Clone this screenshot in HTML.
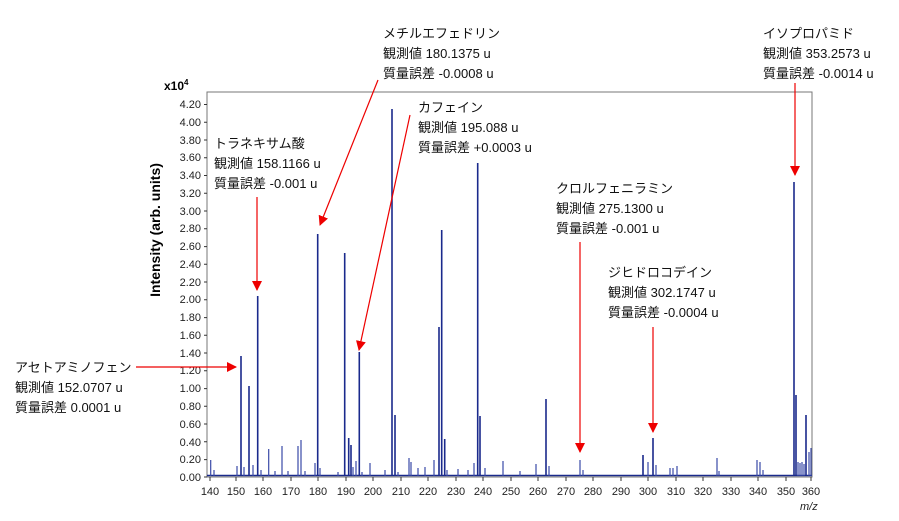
<!DOCTYPE html>
<html><head><meta charset="utf-8"><style>
html,body{margin:0;padding:0;background:#fff;}
svg{display:block;}
text{font-family:"Liberation Sans","Noto Sans CJK JP",sans-serif;}
.t{font-size:13px;fill:#111;}
.k{font-size:11px;fill:#222;}
</style></head><body>
<svg width="899" height="521" viewBox="0 0 899 521" xmlns="http://www.w3.org/2000/svg">
<defs><marker id="a" markerWidth="10" markerHeight="10" refX="9" refY="5" orient="auto" markerUnits="userSpaceOnUse"><path d="M0,0 L10,5 L0,10 z" fill="#e00"/></marker></defs>
<rect x="207" y="92" width="605" height="385" fill="none" stroke="#777" stroke-width="1"/>
<g stroke="#333" stroke-width="1">
<path d="M204,104.5h3M204,122.3h3M204,140h3M204,157.8h3M204,175.5h3M204,193.3h3M204,211h3M204,228.8h3M204,246.6h3M204,264.3h3M204,282h3M204,299.8h3M204,317.6h3M204,335.3h3M204,353h3M204,370.8h3M204,388.6h3M204,406.3h3M204,424h3M204,441.8h3M204,459.6h3M204,477h3"/>
<path d="M210,477v4M236,477v4M263,477v4M291,477v4M318,477v4M346,477v4M373,477v4M401,477v4M428,477v4M456,477v4M483,477v4M511,477v4M538,477v4M566,477v4M593,477v4M621,477v4M648,477v4M676,477v4M703,477v4M731,477v4M758,477v4M786,477v4M811,477v4"/>
</g>
<g class="k" text-anchor="end">
<text x="201" y="108">4.20</text><text x="201" y="126">4.00</text><text x="201" y="144">3.80</text><text x="201" y="161">3.60</text><text x="201" y="179">3.40</text><text x="201" y="197">3.20</text><text x="201" y="215">3.00</text><text x="201" y="232">2.80</text><text x="201" y="250">2.60</text><text x="201" y="268">2.40</text><text x="201" y="286">2.20</text><text x="201" y="303">2.00</text><text x="201" y="321">1.80</text><text x="201" y="339">1.60</text><text x="201" y="357">1.40</text><text x="201" y="374">1.20</text><text x="201" y="392">1.00</text><text x="201" y="410">0.80</text><text x="201" y="428">0.60</text><text x="201" y="446">0.40</text><text x="201" y="463">0.20</text><text x="201" y="481">0.00</text>
</g>
<g class="k" text-anchor="middle">
<text x="210" y="495">140</text><text x="236" y="495">150</text><text x="263" y="495">160</text><text x="291" y="495">170</text><text x="318" y="495">180</text><text x="346" y="495">190</text><text x="373" y="495">200</text><text x="401" y="495">210</text><text x="428" y="495">220</text><text x="456" y="495">230</text><text x="483" y="495">240</text><text x="511" y="495">250</text><text x="538" y="495">260</text><text x="566" y="495">270</text><text x="593" y="495">280</text><text x="621" y="495">290</text><text x="648" y="495">300</text><text x="676" y="495">310</text><text x="703" y="495">320</text><text x="731" y="495">330</text><text x="758" y="495">340</text><text x="786" y="495">350</text><text x="811" y="495">360</text>
</g>
<text x="800" y="510" class="k" font-style="italic">m/z</text>
<text x="164" y="90" style="font-size:12px;font-weight:bold">x10<tspan dy="-5" font-size="8">4</tspan></text>
<text transform="translate(160,230) rotate(-90)" text-anchor="middle" style="font-size:14px;font-weight:bold">Intensity (arb. units)</text>
<g stroke="#1a2a8c" stroke-width="1.6">
<path d="M207,475.5H812"/>
<path d="M241,476V356M249,476V386M257.7,476V296M317.7,476V234M344.7,476V253M348.7,476V438M351,476V445M359.3,476V352M392,476V109M395,476V415M439,476V327M441.7,476V230M444.7,476V439M477.7,476V163M480,476V416M546,476V399M653,476V438M643,476V455M794,476V182M796,476V395M806,476V415"/>
</g>
<g stroke="#3a4aa8" stroke-width="1.2">
<path d="M210.7,476V460M268.7,476V449M282,476V446M298,476V446M301,476V440M356,476V461M370,476V463M409,476V458M411,476V462M503,476V461M536,476V464M214,476V470M237,476V466M244,476V467M253,476V465M261,476V470M275,476V471M288,476V471M305,476V471M315,476V463M320,476V468M338,476V472M353,476V467M362,476V472M385,476V470M398,476V472M418,476V468M425,476V467M434,476V460M447,476V470M458,476V469M468,476V470M474,476V463M485,476V468M520,476V471M549,476V466M580,476V460M583,476V470M648,476V462M656,476V465M670,476V468M673,476V468M677,476V466M717,476V458M719,476V471M757,476V460M760,476V462M763,476V470M798,476V462M800,476V463M802,476V462M804,476V464M809,476V452M811,476V448"/>
</g>
<g fill="none" stroke="#e00" stroke-width="1.2" marker-end="url(#a)">
<path d="M136,367L236,367"/>
<path d="M257,197L257,290"/>
<path d="M378,80L320,225"/>
<path d="M410,115L359,350"/>
<path d="M580,242L580,452"/>
<path d="M653,327L653,432"/>
<path d="M795,83L795,175"/>
</g>
<g class="t">
<text x="15" y="372">アセトアミノフェン</text><text x="15" y="392">観測値 152.0707 u</text><text x="15" y="412">質量誤差 0.0001 u</text>
<text x="214" y="148">トラネキサム酸</text><text x="214" y="168">観測値 158.1166 u</text><text x="214" y="188">質量誤差 -0.001 u</text>
<text x="383" y="38">メチルエフェドリン</text><text x="383" y="58">観測値 180.1375 u</text><text x="383" y="78">質量誤差 -0.0008 u</text>
<text x="418" y="112">カフェイン</text><text x="418" y="132">観測値 195.088 u</text><text x="418" y="152">質量誤差 +0.0003 u</text>
<text x="556" y="193">クロルフェニラミン</text><text x="556" y="213">観測値 275.1300 u</text><text x="556" y="233">質量誤差 -0.001 u</text>
<text x="608" y="277">ジヒドロコデイン</text><text x="608" y="297">観測値 302.1747 u</text><text x="608" y="317">質量誤差 -0.0004 u</text>
<text x="763" y="38">イソプロパミド</text><text x="763" y="58">観測値 353.2573 u</text><text x="763" y="78">質量誤差 -0.0014 u</text>
</g>
</svg>
</body></html>
